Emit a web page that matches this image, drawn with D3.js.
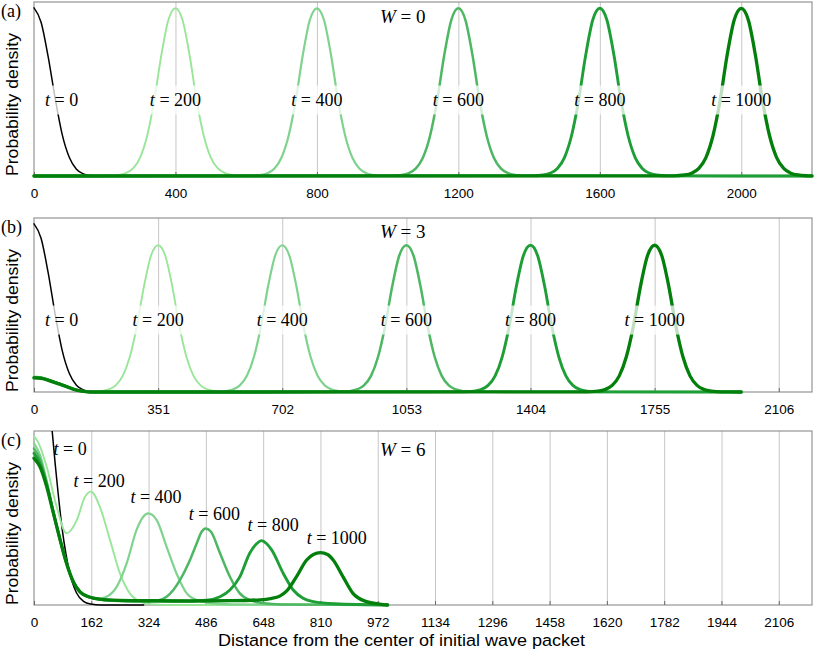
<!DOCTYPE html>
<html>
<head>
<meta charset="utf-8">
<script src="https://cdn.jsdelivr.net/npm/d3@7"></script>
<style>
  body { margin: 0; background: #fff; }
  svg { display: block; }
</style>
</head>
<body>
<svg id="chart" width="814" height="652"></svg>
<script>
// ---- data ----
const times = [0, 200, 400, 600, 800, 1000];
const panelTags = ["(a)", "(b)", "(c)"];
const disorder = [0, 3, 6];
const xMax = 2200;
const yMax = [1.035, 1.035, 0.568];

// tick values of each panel
const ticksA = [0, 400, 800, 1200, 1600, 2000];
const ticksB = [0, 351, 702, 1053, 1404, 1755, 2106];
const ticksC = [0, 162, 324, 486, 648, 810, 972, 1134, 1296, 1458, 1620, 1782, 1944, 2106];

// initial packet t = 0 (same in every panel)
const initX = [0, 20, 40, 60, 80, 100, 120, 140, 160, 190, 310];
const initY = [1, 0.915, 0.71, 0.46, 0.245, 0.11, 0.04, 0.012, 0.003, 0, 0];

// travelling packet read from (a) and (b): offset from its centre, relative height
const packetOffset = [-190, -160, -140, -120, -100, -80, -60, -40, -20, 0, 20, 40, 60, 80, 100, 120, 140, 160, 190];
const packetShape = [0.001, 0.006, 0.017, 0.045, 0.11, 0.24, 0.45, 0.72, 0.93, 1, 0.93, 0.72, 0.45, 0.24, 0.11, 0.045, 0.017, 0.006, 0.001];

// (a) W = 0
const centersA = [400, 800, 1200, 1600, 2000];
const peakA = 0.9975;

// (b) W = 3 : packets plus a small part left at the origin
const centersB = [351, 702, 1053, 1404, 1755];
const peakB = 0.873;
const humpX = [0, 20, 45, 70, 92, 115, 140, 160];
const humpShape = [1, 0.965, 0.79, 0.575, 0.38, 0.17, 0.045, 0];
const humpPeakB = [0.092, 0.09, 0.088, 0.086, 0.084];
const endB = 2000;

// (c) W = 6
const c200 = [[0,0.55],[10,0.535],[36,0.451],[64,0.321],[92,0.234],[121,0.277],[144,0.353],[161,0.37],[186,0.321],[215,0.212],[243,0.103],[271,0.038],[300,0.011],[330,0.003],[400,0],[1000,0]];
const c400 = [[0,0.528],[17,0.49],[36,0.405],[55,0.305],[74,0.215],[92,0.138],[111,0.077],[130,0.043],[154,0.027],[177,0.02],[205,0.027],[234,0.06],[262,0.136],[290,0.245],[309,0.288],[323,0.299],[347,0.277],[375,0.19],[403,0.103],[432,0.038],[460,0.016],[500,0.006],[560,0.002],[1000,0]];
const c600 = [[0,0.511],[17,0.475],[36,0.398],[55,0.302],[74,0.213],[92,0.137],[111,0.077],[130,0.043],[154,0.027],[177,0.02],[224,0.014],[300,0.012],[350,0.015],[375,0.027],[394,0.049],[413,0.082],[441,0.147],[460,0.201],[474,0.239],[485,0.25],[500,0.24],[526,0.169],[554,0.092],[582,0.038],[610,0.016],[650,0.006],[700,0.002],[1000,0]];
const c800 = [[0,0.495],[17,0.462],[36,0.392],[55,0.3],[74,0.212],[92,0.136],[111,0.076],[130,0.043],[154,0.027],[177,0.02],[224,0.015],[300,0.013],[400,0.012],[488,0.016],[526,0.027],[554,0.049],[582,0.092],[610,0.169],[628,0.198],[643,0.21],[658,0.2],[672,0.18],[705,0.103],[733,0.049],[761,0.022],[790,0.011],[850,0.004],[1000,0]];
const c1000 = [[0,0.479],[17,0.451],[36,0.386],[55,0.299],[74,0.212],[92,0.136],[111,0.076],[130,0.043],[154,0.027],[177,0.021],[224,0.016],[300,0.014],[450,0.013],[560,0.014],[639,0.017],[670,0.021],[695,0.029],[714,0.045],[742,0.092],[771,0.147],[790,0.165],[810,0.171],[830,0.165],[846,0.147],[874,0.092],[902,0.038],[940,0.011],[978,0.003],[1000,0]];

// label anchors (data units)
const labelXA = [78, 400, 800, 1200, 1600, 2000];
const labelYA = 0.452;
const labelXB = [78, 351, 702, 1053, 1404, 1755];
const labelYB = 0.428;
const labelXC = [102, 184, 345, 510, 676, 856];
const labelYC = [0.509, 0.405, 0.351, 0.297, 0.261, 0.218];

// ---- build series ----
function packet(center, peak) {
  return packetOffset.map((o, i) => [center + o, peak * packetShape[i]]);
}
const init = initX.map((v, i) => [v, initY[i]]);
const seriesA = [init].concat(centersA.map(c => [[0, 0], ...packet(c, peakA), [xMax, 0]]));
const seriesB = [init].concat(centersB.map((c, i) => [
  ...humpX.map((h, j) => [h, humpPeakB[i] * humpShape[j]]),
  ...packet(c, peakB),
  [endB, 0]
]));
const seriesC = [init, c200, c400, c600, c800, c1000];

// ---- layout ----
const svg = d3.select("#chart");
const left = 34, right = 812, plotH = 174;
const tops = [2, 218, 431];
const wBase = [23, 238, 456];
const colors = ["#000000", "#98e698", "#80d38e", "#4db763", "#1e9e36", "#037f0b"];
const widths = [1.5, 1.9, 2.2, 2.5, 2.9, 3.3];
const serif = "'Liberation Serif', 'Times New Roman', serif";
const sans = "'Liberation Sans', Arial, Helvetica, sans-serif";

const x = d3.scaleLinear().domain([0, xMax]).range([left, right]);

function eqLabel(sel, sym, value) {
  sel.append("tspan").attr("font-style", "italic").text(sym);
  sel.append("tspan").text(" = " + value);
}

function drawPanel(i, series, ticks, labelX, labelY, boxed) {
  const top = tops[i], bottom = top + plotH;
  const y = d3.scaleLinear().domain([0, yMax[i]]).range([bottom, top]);
  const g = svg.append("g");

  svg.append("clipPath").attr("id", "clip" + i)
    .append("rect")
    .attr("x", left - 2).attr("y", top)
    .attr("width", right - left + 4).attr("height", plotH + 3);

  // vertical grid lines
  const grid = g.append("g")
    .attr("transform", `translate(0,${bottom})`)
    .call(d3.axisBottom(x).tickValues(ticks.filter(t => t > 0)).tickSize(-plotH).tickFormat(""));
  grid.select(".domain").remove();
  grid.selectAll("line").attr("stroke", "#c6c6c6").attr("stroke-width", 1);

  // frame
  g.append("rect")
    .attr("x", left).attr("y", top)
    .attr("width", right - left).attr("height", plotH)
    .attr("fill", "none").attr("stroke", "#8a8a8a").attr("stroke-width", 1.1);

  // ticks and tick labels
  const axis = g.append("g")
    .attr("transform", `translate(0,${bottom})`)
    .call(d3.axisBottom(x).tickValues(ticks).tickSizeInner(-4).tickSizeOuter(0).tickFormat(d3.format("d")));
  axis.select(".domain").remove();
  axis.selectAll("line").attr("stroke", "#6a6a6a");
  axis.selectAll("text")
    .attr("y", 22).attr("dy", 0)
    .attr("fill", "#000")
    .style("font-family", sans).style("font-size", "13.5px");

  // curves
  const line = d3.line()
    .x(d => x(d[0]))
    .y(d => y(d[1]))
    .curve(d3.curveMonotoneX);
  g.append("g").attr("clip-path", `url(#clip${i})`)
    .selectAll("path")
    .data(series)
    .join("path")
    .attr("d", line)
    .attr("fill", "none")
    .attr("stroke", (d, j) => colors[j])
    .attr("stroke-width", (d, j) => widths[j])
    .attr("stroke-linejoin", "round")
    .attr("stroke-linecap", "round");

  // time labels
  const labels = g.append("g");
  times.forEach((t, j) => {
    const ly = Array.isArray(labelY) ? labelY[j] : labelY;
    const lg = labels.append("g");
    const txt = lg.append("text")
      .attr("x", x(labelX[j])).attr("y", y(ly))
      .attr("text-anchor", "middle")
      .attr("dominant-baseline", "central")
      .style("font-family", serif).style("font-size", "18px");
    eqLabel(txt, "t", t);
    if (boxed) {
      const bb = txt.node().getBBox();
      lg.insert("rect", "text")
        .attr("x", bb.x - 3).attr("y", bb.y - 4.5)
        .attr("width", bb.width + 6).attr("height", bb.height + 9)
        .attr("fill", "#fff").attr("fill-opacity", 0.75);
    }
  });

  // W label
  const wt = g.append("text")
    .attr("x", 380).attr("y", wBase[i])
    .style("font-family", serif).style("font-size", "19px");
  eqLabel(wt, "W", disorder[i]);

  // panel tag
  g.append("text")
    .attr("x", 1).attr("y", top + 14.5)
    .style("font-family", serif).style("font-size", "18px")
    .text(panelTags[i]);

  // y axis title
  g.append("text")
    .attr("transform", `translate(18,${bottom}) rotate(-90)`)
    .attr("text-anchor", "start")
    .attr("textLength", 143).attr("lengthAdjust", "spacingAndGlyphs")
    .style("font-family", sans).style("font-size", "16.5px")
    .text("Probability density");
}

drawPanel(0, seriesA, ticksA, labelXA, labelYA, true);
drawPanel(1, seriesB, ticksB, labelXB, labelYB, true);
drawPanel(2, seriesC, ticksC, labelXC, labelYC, false);

svg.append("text")
  .attr("x", 401.5).attr("y", 646)
  .attr("text-anchor", "middle")
  .attr("textLength", 367).attr("lengthAdjust", "spacingAndGlyphs")
  .style("font-family", sans).style("font-size", "16.3px")
  .text("Distance from the center of initial wave packet");
</script>
</body>
</html>
